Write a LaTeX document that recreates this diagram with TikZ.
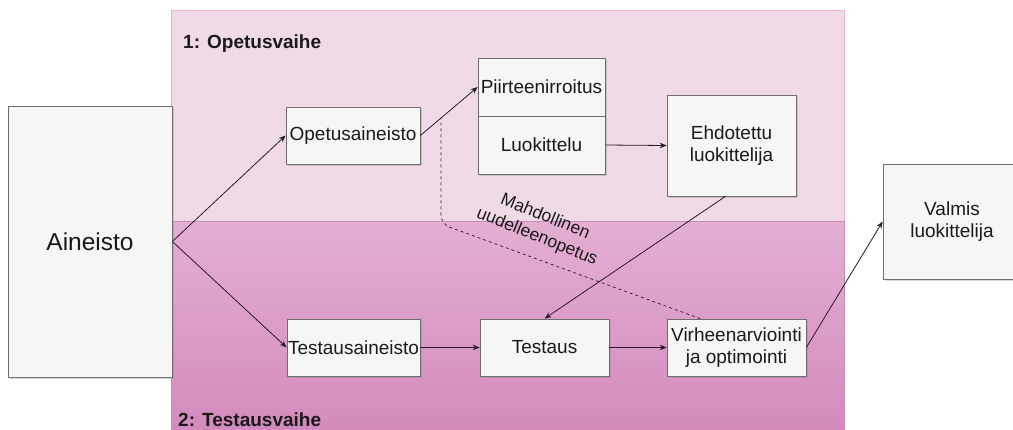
\documentclass[tikz,border=0pt]{standalone}
\usepackage{fontspec}
\setmainfont{Liberation Sans}
\usetikzlibrary{arrows.meta,shadows,calc}
\definecolor{topfill}{HTML}{F1DAE8}
\definecolor{topdraw}{HTML}{F0B4C6}
\definecolor{botA}{HTML}{E4AFD3}
\definecolor{botB}{HTML}{D38ABD}
\definecolor{botdraw}{HTML}{C988B7}
\definecolor{boxfill}{HTML}{F6F6F5}
\definecolor{boxdraw}{HTML}{6E6E6E}
\definecolor{linecol}{HTML}{2A1A2A}
\definecolor{txt}{HTML}{1A1A1A}
\begin{document}
\begin{tikzpicture}[x=1pt,y=-1pt,
  box/.style={draw=boxdraw, fill=boxfill, line width=0.7pt,
    drop shadow={shadow xshift=2pt,shadow yshift=-2pt,opacity=0.3},
    font=\fontsize{19}{22}\selectfont, align=center, inner sep=0pt, text=txt},
  arr/.style={draw=linecol, line width=0.8pt, -{Stealth[length=7pt,width=5.5pt]}},
  title/.style={anchor=base west, inner sep=0pt, text=txt, font=\bfseries\fontsize{19}{22}\selectfont}
]
\useasboundingbox (0,0) rectangle (1013,429);
% bands
\fill[topfill] (171,10) rectangle (844,221);
\draw[topdraw, line width=0.8pt] (171,432) -- (171,10) -- (844,10) -- (844,221);
\shade[top color=botA, bottom color=botB] (171,221) rectangle (844,432);
\draw[botdraw, line width=0.9pt] (171,432) -- (171,221) -- (844,221) -- (844,432);
% titles
\node[title] (t1) at (183,48.3) {1: Opetusvaihe};
\node[title] (t2) at (178,426.7) {2: Testausvaihe};
% boxes
\node[box, minimum width=164pt, minimum height=271pt, font=\fontsize{24.5}{28}\selectfont] (ain) at (90,241.5) {Aineisto};
\node[box, minimum width=134pt, minimum height=57pt] (opa) at (353,135.5) {Opetusaineisto};
\node[box, minimum width=127pt, minimum height=58pt] (pii) at (541.5,87) {Piirteenirroitus};
\node[box, minimum width=127pt, minimum height=58pt] (luo) at (541.5,145) {Luokittelu};
\node[box, minimum width=129pt, minimum height=101pt] (ehd) at (731.5,145.5) {Ehdotettu\\luokittelija};
\node[box, minimum width=138pt, minimum height=115pt] (val) at (952,221.5) {Valmis\\luokittelija};
\node[box, minimum width=133pt, minimum height=57pt] (tea) at (353.5,347.5) {Testausaineisto};
\node[box, minimum width=129pt, minimum height=57pt] (tes) at (544.5,347.5) {Testaus};
\node[box, minimum width=139pt, minimum height=57pt] (vir) at (736.5,347.5) {Virheenarviointi\\ja optimointi};
% connectors
\draw[arr] (ain.east) -- (opa.west);
\draw[arr] (ain.east) -- (tea.west);
\draw[arr] (opa.east) -- (pii.west);
\draw[arr] (luo.east) -- (ehd.west);
\draw[arr] ($(ehd.south)+(-6,0)$) -- (tes.north);
\draw[arr] (tea.east) -- (tes.west);
\draw[arr] (tes.east) -- (vir.west);
\draw[arr] (vir.east) -- (val.west);
% dashed retraining path
\coordinate (vtop) at ($(vir.north west)!0.24!(vir.north east)$);
\coordinate (dend) at (441,118);
\draw[linecol, line width=0.7pt, dash pattern=on 3pt off 3pt, rounded corners=9pt]
  (vtop) -- (441,224) -- (dend);
\node[font=\fontsize{17.5}{21.5}\selectfont, rotate=-22, align=center, text=txt, inner sep=0pt] (lbl) at (541,227) {Mahdollinen\\uudelleenopetus};
\end{tikzpicture}
\end{document}
